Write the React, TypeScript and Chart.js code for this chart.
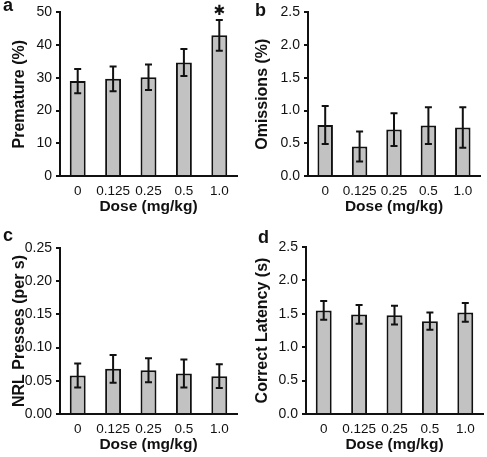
import React, { useEffect, useRef } from "react";
import { Chart, registerables } from "chart.js";

Chart.register(...registerables);

const doses = ["0", "0.125", "0.25", "0.5", "1.0"];

const prematureMeans = [29, 29.7, 30.2, 34.7, 43];
const prematureErr = [3.7, 3.8, 3.9, 4.1, 4.7];
const prematureSig = [false, false, false, false, true];

const omissionMeans = [0.78, 0.45, 0.71, 0.77, 0.74];
const omissionErr = [0.29, 0.23, 0.25, 0.28, 0.31];

const nrlMeans = [0.058, 0.068, 0.066, 0.061, 0.057];
const nrlErr = [0.018, 0.021, 0.018, 0.021, 0.018];

const latencyMeans = [1.55, 1.49, 1.48, 1.39, 1.52];
const latencyErr = [0.14, 0.14, 0.14, 0.13, 0.14];

const FONT = "'Liberation Sans', Arial, Helvetica, sans-serif";
const INK = "#111111";

const errorBarPlugin = {
  id: "errorBars",
  afterDatasetsDraw(chart: any, _args: any, opts: any) {
    const { ctx } = chart;
    const meta = chart.getDatasetMeta(0);
    const yScale = chart.scales.y;
    const values = chart.data.datasets[0].data as number[];
    const errs: number[] = opts.errors || [];
    const marks: boolean[] = opts.marks || [];
    ctx.save();
    ctx.strokeStyle = INK;
    ctx.lineWidth = 2;
    meta.data.forEach((bar: any, i: number) => {
      const x = bar.x;
      const yTop = yScale.getPixelForValue(values[i] + errs[i]);
      const yBot = yScale.getPixelForValue(values[i] - errs[i]);
      ctx.beginPath();
      ctx.moveTo(x, yTop);
      ctx.lineTo(x, yBot);
      ctx.moveTo(x - 3.5, yTop);
      ctx.lineTo(x + 3.5, yTop);
      ctx.moveTo(x - 3.5, yBot);
      ctx.lineTo(x + 3.5, yBot);
      ctx.stroke();
      if (marks[i]) {
        ctx.fillStyle = INK;
        ctx.font = "14px 'DejaVu Sans', sans-serif";
        ctx.textAlign = "center";
        ctx.textBaseline = "middle";
        ctx.fillText("\u2731", x, yTop - 9);
      }
    });
    ctx.restore();
  },
};

type PanelProps = {
  left: number;
  top: number;
  width: number;
  height: number;
  area: { left: number; top: number; right: number; bottom: number };
  means: number[];
  errors: number[];
  marks?: boolean[];
  yMax: number;
  yStep: number;
  decimals: number;
  yTitle: string;
  letter: string;
  letterPos: { x: number; y: number };
};

function Panel(p: PanelProps) {
  const ref = useRef<HTMLCanvasElement | null>(null);
  useEffect(() => {
    if (!ref.current) return;
    const xAxisHeight = 40;
    const chart = new Chart(ref.current, {
      type: "bar",
      data: {
        labels: doses,
        datasets: [
          {
            data: p.means,
            backgroundColor: "#c2c2c2",
            borderColor: INK,
            borderWidth: 2,
            barPercentage: 0.45,
            categoryPercentage: 1,
          },
        ],
      },
      options: {
        animation: false,
        responsive: false,
        maintainAspectRatio: false,
        layout: {
          padding: {
            left: 0,
            top: p.area.top,
            right: p.width - p.area.right,
            bottom: p.height - p.area.bottom - xAxisHeight,
          },
        },
        plugins: {
          legend: { display: false },
          tooltip: { enabled: false },
          errorBars: { errors: p.errors, marks: p.marks || [] },
        } as any,
        scales: {
          x: {
            offset: true,
            grid: { display: false, drawTicks: false },
            border: { display: true, color: INK, width: 2 },
            ticks: {
              color: INK,
              padding: 7,
              font: { family: FONT, size: 13.5 },
              maxRotation: 0,
              autoSkip: false,
            },
            title: {
              display: true,
              text: "Dose (mg/kg)",
              color: INK,
              font: { family: FONT, size: 15.5, weight: "bold" },
              padding: { top: 0, bottom: 0 },
            },
            afterFit: (s: any) => {
              s.height = xAxisHeight;
            },
          },
          y: {
            min: 0,
            max: p.yMax,
            grid: {
              drawOnChartArea: false,
              drawTicks: true,
              tickLength: 4,
              color: INK,
              lineWidth: 2,
            },
            border: { display: true, color: INK, width: 2 },
            ticks: {
              stepSize: p.yStep,
              color: INK,
              padding: 4,
              font: { family: FONT, size: 14 },
              callback: (v: any) => Number(v).toFixed(p.decimals),
            },
            title: {
              display: true,
              text: p.yTitle,
              color: INK,
              font: { family: FONT, size: 16, weight: "bold" },
              padding: { top: 10, bottom: 0 },
            },
            afterFit: (s: any) => {
              s.width = p.area.left;
            },
          },
        },
      } as any,
      plugins: [errorBarPlugin],
    });
    return () => chart.destroy();
  }, []);

  return (
    <div
      style={{
        position: "absolute",
        left: p.left,
        top: p.top,
        width: p.width,
        height: p.height,
      }}
    >
      <canvas
        ref={ref}
        width={p.width}
        height={p.height}
        style={{ display: "block", width: p.width, height: p.height }}
      />
      <div
        style={{
          position: "absolute",
          left: p.letterPos.x,
          top: p.letterPos.y,
          fontFamily: FONT,
          fontWeight: "bold",
          fontSize: 18,
          lineHeight: "18px",
          color: INK,
        }}
      >
        {p.letter}
      </div>
    </div>
  );
}

export default function App() {
  return (
    <div
      style={{
        position: "absolute",
        left: 0,
        top: 0,
        width: 487,
        height: 457,
        background: "#fff",
        overflow: "hidden",
      }}
    >
      <Panel
        left={0}
        top={0}
        width={243}
        height={228}
        area={{ left: 60, top: 10, right: 237, bottom: 176 }}
        means={prematureMeans}
        errors={prematureErr}
        marks={prematureSig}
        yMax={50}
        yStep={10}
        decimals={0}
        yTitle="Premature (%)"
        letter="a"
        letterPos={{ x: 3, y: -4 }}
      />
      <Panel
        left={243}
        top={0}
        width={244}
        height={228}
        area={{ left: 65, top: 9, right: 237, bottom: 176 }}
        means={omissionMeans}
        errors={omissionErr}
        yMax={2.5}
        yStep={0.5}
        decimals={1}
        yTitle="Omissions (%)"
        letter="b"
        letterPos={{ x: 12, y: 1 }}
      />
      <Panel
        left={0}
        top={228}
        width={243}
        height={229}
        area={{ left: 60, top: 20, right: 237, bottom: 186 }}
        means={nrlMeans}
        errors={nrlErr}
        yMax={0.25}
        yStep={0.05}
        decimals={2}
        yTitle="NRL Presses (per s)"
        letter="c"
        letterPos={{ x: 3, y: -2 }}
      />
      <Panel
        left={243}
        top={228}
        width={244}
        height={229}
        area={{ left: 63, top: 19, right: 240, bottom: 186 }}
        means={latencyMeans}
        errors={latencyErr}
        yMax={2.5}
        yStep={0.5}
        decimals={1}
        yTitle="Correct Latency (s)"
        letter="d"
        letterPos={{ x: 15, y: 0 }}
      />
    </div>
  );
}
